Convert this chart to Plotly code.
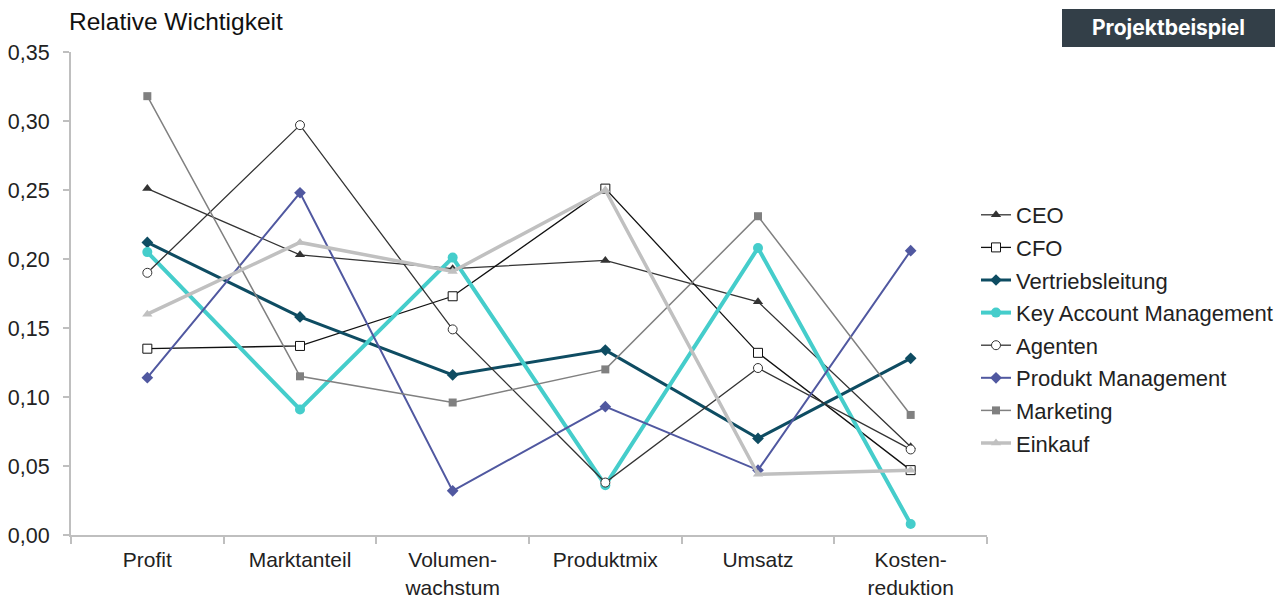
import plotly.graph_objects as go

categories = ["Profit", "Marktanteil", "Volumen-<br>wachstum", "Produktmix", "Umsatz", "Kosten-<br>reduktion"]

ceo = [0.251, 0.203, 0.193, 0.199, 0.169, 0.064]
cfo = [0.135, 0.137, 0.173, 0.251, 0.132, 0.047]
vertrieb = [0.212, 0.158, 0.116, 0.134, 0.070, 0.128]
kam = [0.205, 0.091, 0.201, 0.036, 0.208, 0.008]
agenten = [0.190, 0.297, 0.149, 0.038, 0.121, 0.062]
produkt = [0.114, 0.248, 0.032, 0.093, 0.047, 0.206]
marketing = [0.318, 0.115, 0.096, 0.120, 0.231, 0.087]
einkauf = [0.160, 0.212, 0.191, 0.250, 0.044, 0.047]

series = [
    ("CEO", ceo, dict(color="#333333", width=1.3), dict(symbol="triangle-up", size=9, color="#333333")),
    ("CFO", cfo, dict(color="#111111", width=1.3), dict(symbol="square", size=9, color="white", line=dict(color="#111111", width=1))),
    ("Vertriebsleitung", vertrieb, dict(color="#0E4C62", width=3), dict(symbol="diamond", size=9, color="#0E4C62")),
    ("Key Account Management", kam, dict(color="#45CDCB", width=4), dict(symbol="circle", size=10, color="#45CDCB")),
    ("Agenten", agenten, dict(color="#333333", width=1.3), dict(symbol="circle", size=9, color="white", line=dict(color="#333333", width=1))),
    ("Produkt Management", produkt, dict(color="#5058A0", width=2), dict(symbol="diamond", size=9, color="#5058A0")),
    ("Marketing", marketing, dict(color="#808080", width=1.5), dict(symbol="square", size=8, color="#808080")),
    ("Einkauf", einkauf, dict(color="#C0C0C0", width=3.5), dict(symbol="triangle-up", size=9, color="#C0C0C0")),
]

fig = go.Figure()
for i, (name, vals, line, marker) in enumerate(series):
    fig.add_trace(go.Scatter(
        x=categories, y=vals, name=name, mode="lines+markers",
        line=line, marker=marker, legendgroup=f"g{i}",
    ))

L, R, T, B = 71, 301, 52, 62
W, H = 1288, 597
pw, ph = W - L - R, H - T - B

def px(x):
    return (x - L) / pw

def py(y):
    return (H - B - y) / ph

fig.update_layout(
    width=W, height=H,
    margin=dict(l=L, r=R, t=T, b=B, autoexpand=False),
    paper_bgcolor="white", plot_bgcolor="white",
    separators=",.",
    font=dict(family="Liberation Sans, Arial, sans-serif", size=22, color="#222222"),
    showlegend=True,
    legend=dict(
        x=px(976), y=py(194), xanchor="left", yanchor="top",
        font=dict(size=22, color="#222222"),
        tracegroupgap=1, bgcolor="rgba(0,0,0,0)",
    ),
    xaxis=dict(
        type="category", range=[-0.5, 5.5], automargin=False,
        showline=True, linecolor="#BFBFBF", linewidth=2,
        ticks="outside", tickson="boundaries", ticklen=7, tickcolor="#BFBFBF", tickwidth=2,
        showgrid=False, zeroline=False,
        tickfont=dict(size=21, color="#222222"),
        ticklabelstandoff=5,
    ),
    yaxis=dict(
        range=[0, 0.35], dtick=0.05, tickformat=".2f", automargin=False,
        showline=True, linecolor="#BFBFBF", linewidth=2,
        ticks="outside", ticklen=6, tickcolor="#BFBFBF", tickwidth=2,
        showgrid=False, zeroline=False,
        tickfont=dict(size=21.5, color="#222222"),
        ticklabelstandoff=9,
    ),
    shapes=[dict(
        type="rect", xref="paper", yref="paper",
        x0=px(1062), x1=px(1275), y0=py(47), y1=py(9),
        fillcolor="#333F48", line=dict(width=0), layer="above",
    )],
    annotations=[
        dict(text="Relative Wichtigkeit", xref="paper", yref="paper",
             x=px(67), y=py(21), xanchor="left", yanchor="middle", showarrow=False,
             font=dict(size=24.5, color="#111111")),
        dict(text="<b>Projektbeispiel</b>", xref="paper", yref="paper",
             x=px(1168.5), y=py(28), xanchor="center", yanchor="middle", showarrow=False,
             font=dict(family="Inter, Roboto, sans-serif", size=21, color="white")),
    ],
)

fig.write_html("out.html")
